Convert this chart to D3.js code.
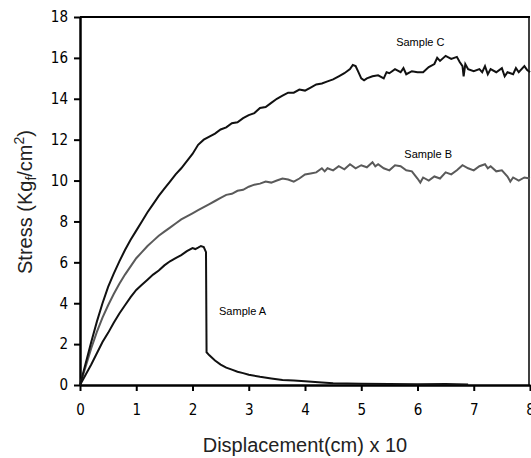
<!DOCTYPE html>
<html><head><meta charset="utf-8">
<script src="https://cdn.jsdelivr.net/npm/d3@7"></script>
<style>
html,body{margin:0;padding:0;background:#fff;}
svg{display:block;}
</style></head>
<body>
<script>
const xTicks = [0,1,2,3,4,5,6,7,8];
const yTicks = [0,2,4,6,8,10,12,14,16,18];

const sampleC = [[0,0],[0.1,1.05],[0.2,2.1],[0.3,3.1],[0.4,4.0],[0.5,4.8],[0.6,5.45],[0.7,6.05],[0.8,6.6],[0.9,7.1],[1.0,7.55],[1.1,8.0],[1.2,8.45],[1.3,8.85],[1.4,9.25],[1.5,9.6],[1.6,9.95],[1.7,10.3],[1.8,10.6],[1.9,10.95],[2.0,11.3],[2.1,11.75],[2.2,12.0],[2.3,12.15],[2.4,12.3],[2.5,12.5],[2.6,12.6],[2.7,12.8],[2.8,12.85],[2.9,13.05],[3.0,13.2],[3.1,13.3],[3.2,13.55],[3.3,13.6],[3.4,13.8],[3.5,14.0],[3.6,14.15],[3.7,14.3],[3.8,14.3],[3.9,14.45],[4.0,14.4],[4.1,14.55],[4.2,14.7],[4.3,14.75],[4.4,14.85],[4.5,14.95],[4.6,15.1],[4.7,15.25],[4.8,15.45],[4.85,15.65],[4.9,15.6],[4.95,15.3],[5.0,15.0],[5.05,14.9],[5.1,15.0],[5.2,15.1],[5.3,15.15],[5.4,15.0],[5.45,15.3],[5.5,15.25],[5.6,15.45],[5.7,15.3],[5.75,15.5],[5.8,15.2],[5.9,15.35],[6.0,15.3],[6.1,15.3],[6.2,15.55],[6.3,15.7],[6.35,16.0],[6.4,15.85],[6.5,16.1],[6.6,15.95],[6.7,16.05],[6.75,15.8],[6.8,15.6],[6.82,15.1],[6.85,15.7],[6.9,15.45],[7.0,15.35],[7.1,15.45],[7.15,15.3],[7.2,15.6],[7.25,15.2],[7.3,15.45],[7.4,15.3],[7.5,15.5],[7.55,15.1],[7.6,15.3],[7.7,15.2],[7.75,15.5],[7.8,15.3],[7.9,15.6],[7.95,15.4],[8.0,15.3]];

const sampleB = [[0,0],[0.1,0.9],[0.2,1.8],[0.3,2.6],[0.4,3.3],[0.5,3.9],[0.6,4.45],[0.7,4.95],[0.8,5.4],[0.9,5.8],[1.0,6.2],[1.1,6.5],[1.2,6.8],[1.3,7.05],[1.4,7.3],[1.5,7.5],[1.6,7.7],[1.7,7.9],[1.8,8.1],[1.9,8.25],[2.0,8.4],[2.1,8.55],[2.2,8.7],[2.3,8.85],[2.4,9.0],[2.5,9.15],[2.6,9.3],[2.7,9.35],[2.8,9.5],[2.9,9.55],[3.0,9.7],[3.1,9.8],[3.2,9.85],[3.3,9.95],[3.4,9.9],[3.5,10.0],[3.6,10.1],[3.7,10.05],[3.8,9.95],[3.9,10.1],[4.0,10.3],[4.1,10.35],[4.2,10.4],[4.3,10.6],[4.35,10.45],[4.4,10.6],[4.5,10.5],[4.6,10.7],[4.7,10.55],[4.8,10.8],[4.9,10.6],[5.0,10.75],[5.1,10.65],[5.2,10.9],[5.25,10.7],[5.3,10.8],[5.4,10.6],[5.5,10.5],[5.6,10.75],[5.7,10.7],[5.8,10.5],[5.9,10.45],[6.0,10.1],[6.05,9.9],[6.1,10.15],[6.2,10.0],[6.3,10.2],[6.4,10.1],[6.5,10.4],[6.6,10.3],[6.7,10.5],[6.8,10.75],[6.9,10.6],[7.0,10.5],[7.1,10.7],[7.2,10.8],[7.25,10.6],[7.3,10.7],[7.4,10.45],[7.5,10.5],[7.6,10.2],[7.65,9.95],[7.7,10.15],[7.8,10.0],[7.9,10.15],[8.0,10.1]];

const sampleA = [[0,0],[0.1,0.5],[0.2,1.0],[0.3,1.55],[0.4,2.1],[0.5,2.55],[0.6,3.05],[0.7,3.5],[0.8,3.9],[0.9,4.3],[1.0,4.65],[1.1,4.9],[1.2,5.15],[1.3,5.4],[1.4,5.6],[1.5,5.85],[1.6,6.05],[1.7,6.2],[1.8,6.35],[1.9,6.55],[2.0,6.7],[2.05,6.65],[2.1,6.72],[2.15,6.8],[2.2,6.75],[2.24,6.5],[2.25,1.6],[2.3,1.45],[2.4,1.2],[2.5,1.0],[2.6,0.85],[2.7,0.75],[2.8,0.65],[2.9,0.58],[3.0,0.5],[3.2,0.4],[3.4,0.32],[3.6,0.25],[3.8,0.22],[4.0,0.18],[4.3,0.12],[4.5,0.08],[5.0,0.06],[5.5,0.05],[6.0,0.04],[6.5,0.05],[6.9,0.03]];

const seriesNames = ["Sample A","Sample B","Sample C"];
const labelPos = [[2.89,3.42],[6.19,11.1],[6.05,16.6]];

const W = 531, H = 458;
const m = {left:80, right:1, top:17, bottom:73};
const svg = d3.select("body").append("svg").attr("width",W).attr("height",H);

const x = d3.scaleLinear().domain([0,8]).range([m.left, W - m.right]);
const y = d3.scaleLinear().domain([0,18]).range([H - m.bottom, m.top]);

const tickFont = "'DejaVu Sans Condensed','Liberation Sans Narrow',sans-serif";

// frame top and right
svg.append("line").attr("x1",x(0)).attr("x2",x(8)).attr("y1",y(18)).attr("y2",y(18)).attr("stroke","#000").attr("stroke-width",2);
svg.append("line").attr("x1",x(8)-1).attr("x2",x(8)-1).attr("y1",y(18)).attr("y2",y(0)).attr("stroke","#000").attr("stroke-width",1.5);

const xAxis = svg.append("g").attr("transform",`translate(0,${y(0)})`)
  .call(d3.axisBottom(x).tickValues(xTicks).tickSize(6).tickSizeOuter(0).tickPadding(13));
const yAxis = svg.append("g").attr("transform",`translate(${x(0)},0)`)
  .call(d3.axisLeft(y).tickValues(yTicks).tickSize(6).tickSizeOuter(0).tickPadding(6));
[xAxis,yAxis].forEach(g=>{
  g.select(".domain").attr("stroke","#000").attr("stroke-width",2.5);
  g.selectAll(".tick line").attr("stroke","#000").attr("stroke-width",2);
  g.selectAll(".tick text").attr("fill","#000").style("font-family",tickFont).style("font-size","15px");
});

const line = d3.line().x(d=>x(d[0])).y(d=>y(d[1]));
const plot = svg.append("g");
plot.append("path").datum(sampleB).attr("d",line).attr("fill","none").attr("stroke","#5a5a5a").attr("stroke-width",2);
plot.append("path").datum(sampleC).attr("d",line).attr("fill","none").attr("stroke","#111").attr("stroke-width",2);
plot.append("path").datum(sampleA).attr("d",line).attr("fill","none").attr("stroke","#111").attr("stroke-width",2);

const lblFont = "'Liberation Sans','Arial',sans-serif";
svg.selectAll("text.lbl").data(seriesNames).enter().append("text").attr("class","lbl")
  .attr("x",(d,i)=>x(labelPos[i][0])).attr("y",(d,i)=>y(labelPos[i][1])).attr("text-anchor","middle")
  .style("font-family",lblFont).style("font-size","11px").attr("fill","#000").text(d=>d);

// axis titles
svg.append("text").attr("x",(x(0)+x(8))/2).attr("y",452).attr("text-anchor","middle")
  .style("font-family",lblFont).style("font-size","20px").attr("fill","#222")
  .text("Displacement(cm) x 10");

const yt = svg.append("text").attr("transform",`translate(32,202) rotate(-90)`).attr("text-anchor","middle")
  .style("font-family",lblFont).style("font-size","20px").attr("fill","#222");
yt.append("tspan").text("Stress (Kg");
yt.append("tspan").attr("dy",4).style("font-size","14px").text("f");
yt.append("tspan").attr("dy",-4).text("/cm");
yt.append("tspan").attr("dy",-8).style("font-size","14px").text("2");
yt.append("tspan").attr("dy",8).text(")");
</script>
</body></html>
